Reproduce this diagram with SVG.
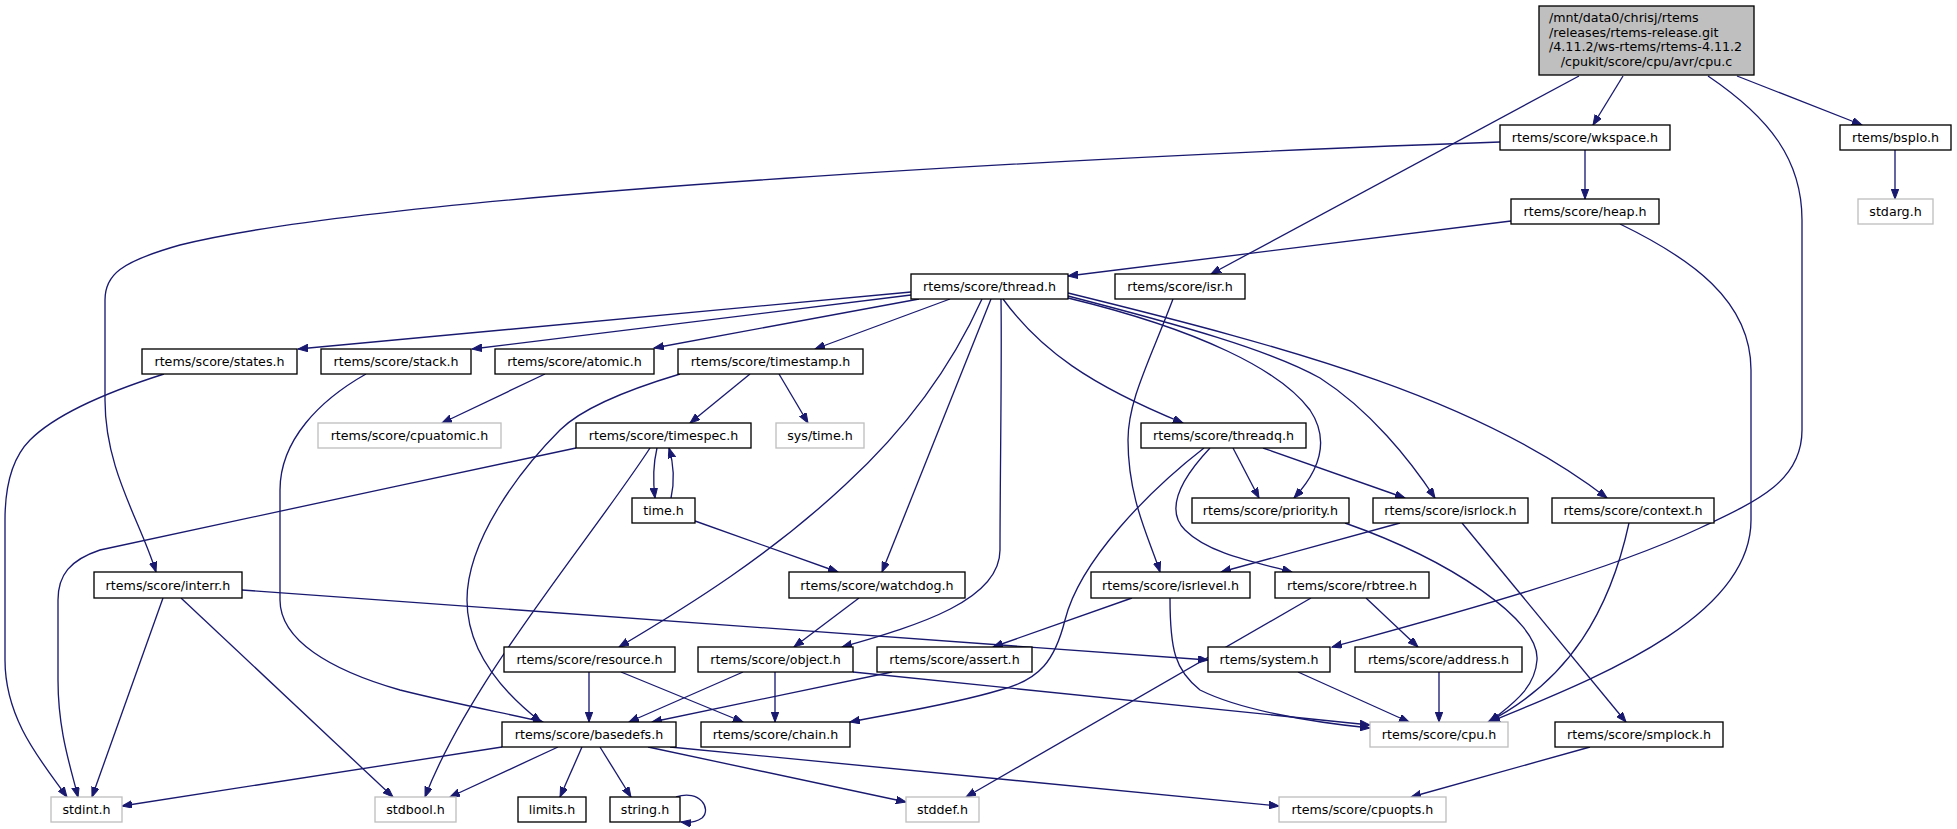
<svg xmlns="http://www.w3.org/2000/svg" width="1957" height="829" viewBox="0 0 1957 829">
<defs>
<marker id="arr" markerUnits="userSpaceOnUse" markerWidth="11" markerHeight="8" refX="10" refY="3.75" orient="auto">
<path d="M0,0 L10,3.75 L0,7.5 z" fill="#191970" stroke="#191970" stroke-width="1"/>
</marker>
</defs>
<style>
.n rect{fill:#fff;stroke:#000;stroke-width:1.33}
.g rect{fill:#fff;stroke:#bfbfbf;stroke-width:1.33}
.r rect{fill:#bfbfbf;stroke:#000;stroke-width:1.33}
text{font-family:"DejaVu Sans","Liberation Sans",sans-serif;font-size:12.67px;fill:#000}
.n text,.g text{text-anchor:middle}
#edges path{fill:none;stroke:#191970;stroke-width:1.33;marker-end:url(#arr)}
</style>
<rect width="1957" height="829" fill="#fff"/>
<g id="edges">
<path d="M1623,76 L1593,125"/>
<path d="M1579,76 L1211,274"/>
<path d="M1708,76 C1770,118 1802,160 1802,220 L1802,430 C1802,480 1760,500 1700,528 C1600,575 1430,620 1332,647"/>
<path d="M1737,76 L1862,125"/>
<path d="M1585,150 L1585,199"/>
<path d="M1500,142 C1200,152 400,190 180,245 C120,262 105,275 105,300 L105,400 C105,470 140,520 156,572"/>
<path d="M1511,221 L1068,276"/>
<path d="M1620,224 C1690,258 1751,300 1751,370 L1751,520 C1751,620 1590,680 1490,722"/>
<path d="M1895,150 L1895,199"/>
<path d="M1173,299 C1150,360 1128,400 1128,440 C1128,500 1150,540 1160,572"/>
<path d="M911,292 L298,349"/>
<path d="M911,295 L472,349"/>
<path d="M919,299 L654,348"/>
<path d="M950,299 L815,349"/>
<path d="M982,299 C950,370 905,430 845,485 C770,555 690,605 619,647"/>
<path d="M991,299 L882,572"/>
<path d="M1001,299 C1002,360 1000,480 1000,550 C1000,600 920,625 842,647"/>
<path d="M1003,299 C1040,350 1090,385 1183,423"/>
<path d="M1068,298 C1200,330 1280,370 1310,410 C1330,440 1320,470 1294,498"/>
<path d="M1068,296 C1180,325 1270,350 1320,378 C1370,410 1410,460 1435,498"/>
<path d="M1068,293 C1300,350 1480,400 1607,498"/>
<path d="M164,374 C120,388 60,410 30,440 C10,460 5,490 5,520 L5,660 C5,720 42,762 67,797"/>
<path d="M366,374 C320,400 280,440 280,490 L280,600 C280,640 330,670 400,690 C460,705 510,714 543,722"/>
<path d="M545,374 L442,423"/>
<path d="M750,374 L690,423"/>
<path d="M779,374 L808,423"/>
<path d="M680,374 C620,392 580,410 560,430 C520,470 467,540 467,600 C467,650 500,690 541,722"/>
<path d="M657,448 C653,465 653,482 655,498"/>
<path d="M671,498 C675,480 674,465 669,448"/>
<path d="M576,448 C420,480 200,530 100,550 C70,560 58,575 58,600 L58,680 C58,730 70,765 78,797"/>
<path d="M650,448 C590,540 470,680 425,797"/>
<path d="M695,521 L838,572"/>
<path d="M1233,448 L1259,498"/>
<path d="M1263,448 L1405,498"/>
<path d="M1210,448 C1180,480 1165,510 1185,530 C1210,555 1260,563 1292,572"/>
<path d="M1204,448 C1150,490 1080,560 1065,620 C1055,660 1040,680 1000,690 C950,705 900,712 850,722"/>
<path d="M1345,523 C1450,560 1540,620 1537,660 C1535,690 1510,705 1490,722"/>
<path d="M1400,523 L1221,572"/>
<path d="M1462,523 L1626,722"/>
<path d="M1629,523 C1610,610 1570,680 1488,722"/>
<path d="M242,590 L1208,660"/>
<path d="M163,598 L92,797"/>
<path d="M181,598 L393,797"/>
<path d="M859,598 L794,647"/>
<path d="M1132,598 L993,647"/>
<path d="M1170,598 C1170,650 1175,670 1200,690 C1240,710 1310,722 1370,728"/>
<path d="M1366,598 L1418,647"/>
<path d="M1311,598 L966,797"/>
<path d="M589,672 L589,722"/>
<path d="M621,672 L743,722"/>
<path d="M743,672 L629,722"/>
<path d="M775,672 L775,722"/>
<path d="M853,672 L1370,725"/>
<path d="M892,672 L652,722"/>
<path d="M1298,672 L1409,722"/>
<path d="M1439,672 L1439,722"/>
<path d="M502,747 L122,806"/>
<path d="M558,747 L450,797"/>
<path d="M582,747 L560,797"/>
<path d="M600,747 L631,797"/>
<path d="M648,747 L906,802"/>
<path d="M670,747 L1279,806"/>
<path d="M676,797 C700,789 712,809 702,818 C696,822 688,823 681,822"/>
<path d="M1590,747 L1411,797"/>
</g>
<g id="root" class="r"><rect x="1539" y="6" width="215" height="69"/>
<text x="1549" y="22">/mnt/data0/chrisj/rtems</text>
<text x="1549" y="36.5">/releases/rtems-release.git</text>
<text x="1549" y="51">/4.11.2/ws-rtems/rtems-4.11.2</text>
<text x="1646.5" y="65.7" text-anchor="middle">/cpukit/score/cpu/avr/cpu.c</text></g>
<g id="wkspace" class="n"><rect x="1500" y="125" width="170" height="25"/><text x="1585" y="142">rtems/score/wkspace.h</text></g>
<g id="heap" class="n"><rect x="1511" y="199" width="148" height="25"/><text x="1585" y="216">rtems/score/heap.h</text></g>
<g id="bspIo" class="n"><rect x="1840" y="125" width="111" height="25"/><text x="1895.5" y="142">rtems/bspIo.h</text></g>
<g id="stdarg" class="g"><rect x="1858" y="199" width="75" height="25"/><text x="1895.5" y="216">stdarg.h</text></g>
<g id="thread" class="n"><rect x="911" y="274" width="157" height="25"/><text x="989.5" y="291">rtems/score/thread.h</text></g>
<g id="isr" class="n"><rect x="1115" y="274" width="130" height="25"/><text x="1180" y="291">rtems/score/isr.h</text></g>
<g id="states" class="n"><rect x="142" y="349" width="155" height="25"/><text x="219.5" y="366">rtems/score/states.h</text></g>
<g id="stack" class="n"><rect x="321" y="349" width="150" height="25"/><text x="396" y="366">rtems/score/stack.h</text></g>
<g id="atomic" class="n"><rect x="495" y="349" width="159" height="25"/><text x="574.5" y="366">rtems/score/atomic.h</text></g>
<g id="timestamp" class="n"><rect x="678" y="349" width="185" height="25"/><text x="770.5" y="366">rtems/score/timestamp.h</text></g>
<g id="cpuatomic" class="g"><rect x="318" y="423" width="183" height="25"/><text x="409.5" y="440">rtems/score/cpuatomic.h</text></g>
<g id="timespec" class="n"><rect x="576" y="423" width="175" height="25"/><text x="663.5" y="440">rtems/score/timespec.h</text></g>
<g id="systime" class="g"><rect x="776" y="423" width="88" height="25"/><text x="820" y="440">sys/time.h</text></g>
<g id="threadq" class="n"><rect x="1141" y="423" width="165" height="25"/><text x="1223.5" y="440">rtems/score/threadq.h</text></g>
<g id="time" class="n"><rect x="632" y="498" width="63" height="25"/><text x="663.5" y="515">time.h</text></g>
<g id="priority" class="n"><rect x="1192" y="498" width="157" height="25"/><text x="1270.5" y="515">rtems/score/priority.h</text></g>
<g id="isrlock" class="n"><rect x="1373" y="498" width="155" height="25"/><text x="1450.5" y="515">rtems/score/isrlock.h</text></g>
<g id="context" class="n"><rect x="1552" y="498" width="162" height="25"/><text x="1633" y="515">rtems/score/context.h</text></g>
<g id="interr" class="n"><rect x="94" y="572" width="148" height="26"/><text x="168" y="589.5">rtems/score/interr.h</text></g>
<g id="watchdog" class="n"><rect x="789" y="572" width="176" height="26"/><text x="877" y="589.5">rtems/score/watchdog.h</text></g>
<g id="isrlevel" class="n"><rect x="1091" y="572" width="159" height="26"/><text x="1170.5" y="589.5">rtems/score/isrlevel.h</text></g>
<g id="rbtree" class="n"><rect x="1275" y="572" width="154" height="26"/><text x="1352" y="589.5">rtems/score/rbtree.h</text></g>
<g id="resource" class="n"><rect x="504" y="647" width="171" height="25"/><text x="589.5" y="664">rtems/score/resource.h</text></g>
<g id="object" class="n"><rect x="698" y="647" width="155" height="25"/><text x="775.5" y="664">rtems/score/object.h</text></g>
<g id="assert" class="n"><rect x="877" y="647" width="155" height="25"/><text x="954.5" y="664">rtems/score/assert.h</text></g>
<g id="system" class="n"><rect x="1208" y="647" width="122" height="25"/><text x="1269" y="664">rtems/system.h</text></g>
<g id="address" class="n"><rect x="1355" y="647" width="167" height="25"/><text x="1438.5" y="664">rtems/score/address.h</text></g>
<g id="basedefs" class="n"><rect x="502" y="722" width="174" height="25"/><text x="589" y="739">rtems/score/basedefs.h</text></g>
<g id="chain" class="n"><rect x="701" y="722" width="149" height="25"/><text x="775.5" y="739">rtems/score/chain.h</text></g>
<g id="cpu" class="g"><rect x="1370" y="722" width="138" height="25"/><text x="1439" y="739">rtems/score/cpu.h</text></g>
<g id="smplock" class="n"><rect x="1555" y="722" width="168" height="25"/><text x="1639" y="739">rtems/score/smplock.h</text></g>
<g id="stdint" class="g"><rect x="51" y="797" width="71" height="25"/><text x="86.5" y="814">stdint.h</text></g>
<g id="stdbool" class="g"><rect x="375" y="797" width="81" height="25"/><text x="415.5" y="814">stdbool.h</text></g>
<g id="limits" class="n"><rect x="518" y="797" width="68" height="25"/><text x="552" y="814">limits.h</text></g>
<g id="string" class="n"><rect x="610" y="797" width="70" height="25"/><text x="645" y="814">string.h</text></g>
<g id="stddef" class="g"><rect x="906" y="797" width="73" height="25"/><text x="942.5" y="814">stddef.h</text></g>
<g id="cpuopts" class="g"><rect x="1279" y="797" width="167" height="25"/><text x="1362.5" y="814">rtems/score/cpuopts.h</text></g>
</svg>
